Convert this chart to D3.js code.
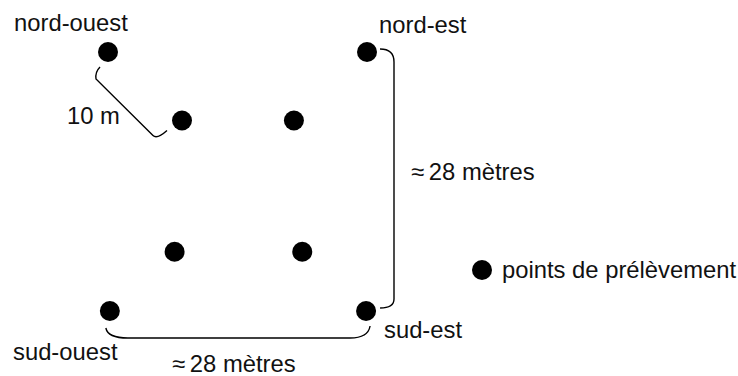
<!DOCTYPE html>
<html>
<head>
<meta charset="utf-8">
<script src="https://cdn.jsdelivr.net/npm/d3@7"></script>
<style>
  html, body { margin: 0; padding: 0; background: #fff; }
  svg { display: block; }
  text { font-family: "Liberation Sans", Arial, sans-serif; font-size: 23.8px; fill: #111; }
</style>
</head>
<body>
<script>
// Sampling points (metres, origin at sud-ouest corner)
const pointNames = ["nord-ouest", "nord-est", "int-no", "int-ne", "int-so", "int-se", "sud-ouest", "sud-est"];
const pointX = [0, 28, 8.0, 20.1, 7.2, 21.0, 0.2, 27.9];
const pointY = [28, 28, 20.6, 20.6, 6.4, 6.4, 0, 0];

const cornerLabels = ["nord-ouest", "nord-est", "sud-ouest", "sud-est"];
const distanceLabels = ["10 m", "\u2248\u200928 mètres", "\u2248\u200928 mètres"];
const legendLabel = "points de prélèvement";

const W = 738, H = 376;
const svg = d3.select("body").append("svg").attr("width", W).attr("height", H);

const x = d3.scaleLinear().domain([0, 28]).range([108, 367]);
const y = d3.scaleLinear().domain([0, 28]).range([311, 52]);

const R = 10;

// dots
svg.selectAll("circle.pt")
  .data(pointX.map((v, i) => ({ x: v, y: pointY[i] })))
  .enter().append("circle")
  .attr("class", "pt")
  .attr("cx", d => x(d.x))
  .attr("cy", d => y(d.y))
  .attr("r", R)
  .attr("fill", "#000");

// braces
const line = { fill: "none", stroke: "#000", "stroke-width": 1.4 };
function addPath(p) {
  const el = svg.append("path").attr("d", p.toString());
  Object.entries(line).forEach(([k, v]) => el.attr(k, v));
}

// diagonal 10 m brace (NW -> inner NW)
{
  const x0 = x(pointX[0]), y0 = y(pointY[0]);
  const x1 = x(pointX[2]), y1 = y(pointY[2]);
  const p = d3.path();
  p.moveTo(x0 - 8, y0 + 15);
  p.quadraticCurveTo(x0 - 13, y0 + 20, x0 - 12, y0 + 27);
  p.lineTo(x1 - 29, y1 + 15);
  p.quadraticCurveTo(x1 - 25, y1 + 19, x1 - 15, y1 + 10);
  addPath(p);
}

// vertical brace (NE -> SE)
{
  const xt = x(pointX[1]), yt = y(pointY[1]);
  const xb = x(pointX[7]), yb = y(pointY[7]);
  const xr = xt + 27;
  const p = d3.path();
  p.moveTo(xt + 13, yt - 3);
  p.quadraticCurveTo(xr, yt - 3, xr, yt + 10);
  p.lineTo(xr, yb - 12);
  p.quadraticCurveTo(xr, yb - 3, xb + 14, yb - 3);
  addPath(p);
}

// horizontal brace (SO -> SE)
{
  const xl = x(pointX[6]), yl = y(pointY[6]);
  const xr = x(pointX[7]);
  const yb = yl + 27;
  const p = d3.path();
  p.moveTo(xl - 4, yl + 17);
  p.quadraticCurveTo(xl - 2, yb, xl + 18, yb);
  p.lineTo(xr - 16, yb);
  p.quadraticCurveTo(xr + 2, yb, xr + 4, yl + 15);
  addPath(p);
}

// labels
const labelPos = [
  [14, 31], [379, 33], [13, 360], [384, 338]
];
svg.selectAll("text.corner")
  .data(cornerLabels)
  .enter().append("text")
  .attr("class", "corner")
  .attr("x", (d, i) => labelPos[i][0])
  .attr("y", (d, i) => labelPos[i][1])
  .text(d => d);

const distPos = [[67, 124], [411, 180], [172, 372]];
svg.selectAll("text.dist")
  .data(distanceLabels)
  .enter().append("text")
  .attr("class", "dist")
  .attr("x", (d, i) => distPos[i][0])
  .attr("y", (d, i) => distPos[i][1])
  .text(d => d);

// legend
svg.append("circle").attr("cx", 482).attr("cy", 270).attr("r", R).attr("fill", "#000");
svg.append("text").attr("x", 502).attr("y", 278).text(legendLabel);
</script>
</body>
</html>
